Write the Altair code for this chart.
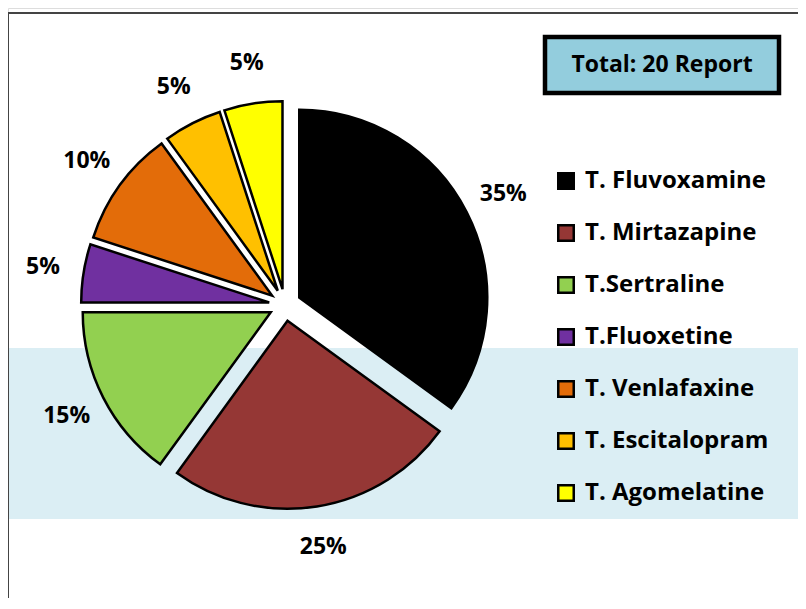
import altair as alt
import pandas as pd

drugs = ["T. Fluvoxamine", "T. Mirtazapine", "T.Sertraline", "T.Fluoxetine",
         "T. Venlafaxine", "T. Escitalopram", "T. Agomelatine"]
counts = [7, 5, 3, 1, 2, 1, 1]
colors = ["#000000", "#953735", "#92D050", "#7030A0", "#E36C09", "#FFC000", "#FFFF00"]
total_label = "Total: 20 Report"

W, H = 790, 590
CX, CY = 277, 297
R = 188
EXPLODE = 16
LABEL_R = 245
FONT = "Open Sans"

df = pd.DataFrame({"drug": drugs, "count": counts, "idx": list(range(len(drugs)))})

base = alt.Chart(df).transform_joinaggregate(
    total="sum(count)"
).transform_window(
    cum="sum(count)", sort=[alt.SortField("idx")], frame=[None, 0]
).transform_calculate(
    start="(datum.cum - datum.count) / datum.total * 2 * PI",
    end="datum.cum / datum.total * 2 * PI",
).transform_calculate(
    mid="(datum.start + datum.end) / 2"
).transform_calculate(
    cx=f"{CX} + {EXPLODE} * sin(datum.mid)",
    cy=f"{CY} - {EXPLODE} * cos(datum.mid)",
    lx=f"{CX} + {LABEL_R} * sin(datum.mid)",
    ly=f"{CY} - {LABEL_R} * cos(datum.mid)",
    pct="format(datum.count / datum.total, '.0%')",
)

arcs = base.mark_arc(radius=R, stroke="black", strokeWidth=2.5, strokeJoin="miter").encode(
    theta=alt.Theta("start:Q", scale=None),
    theta2="end:Q",
    x=alt.X("cx:Q", scale=None),
    y=alt.Y("cy:Q", scale=None),
    color=alt.Color("drug:N", scale=alt.Scale(domain=drugs, range=colors),
                    sort=drugs,
                    legend=alt.Legend(title=None, orient="none", legendX=546, legendY=161,
                                      symbolType="square", symbolSize=240,
                                      symbolStrokeColor="black", symbolStrokeWidth=2.5,
                                      labelFont=FONT, labelFontWeight="bold",
                                      labelFontSize=24, labelColor="black", labelLimit=0,
                                      labelOffset=7, rowPadding=26, padding=0,
                                      symbolOpacity=1)),
    order=alt.Order("idx:Q"),
)

labels = base.mark_text(font=FONT, fontWeight="bold", fontSize=23, color="black",
                        align="center", baseline="middle").encode(
    x=alt.X("lx:Q", scale=None),
    y=alt.Y("ly:Q", scale=None),
    text="pct:N",
)

band = alt.Chart(pd.DataFrame({"a": [0]})).mark_rect(color="#DBEEF4").encode(
    x=alt.value(0), x2=alt.value(W), y=alt.value(340), y2=alt.value(511))

frame_top = alt.Chart(pd.DataFrame({"a": [0]})).mark_rule(color="#444444", strokeWidth=2).encode(
    x=alt.value(0), x2=alt.value(W), y=alt.value(5))
frame_left = alt.Chart(pd.DataFrame({"a": [0]})).mark_rule(color="#444444", strokeWidth=2).encode(
    x=alt.value(0), y=alt.value(5), y2=alt.value(H))

box = alt.Chart(pd.DataFrame({"a": [0]})).mark_rect(fill="#93CDDD", stroke="black", strokeWidth=4.5).encode(
    x=alt.value(537), x2=alt.value(771), y=alt.value(29), y2=alt.value(85))
box_text = alt.Chart(pd.DataFrame({"t": [total_label]})).mark_text(
    font=FONT, fontWeight="bold", fontSize=23, color="black", align="center", baseline="middle").encode(
    x=alt.value(654), y=alt.value(57), text="t:N")

chart = alt.layer(band, frame_top, frame_left, arcs, labels, box, box_text).properties(
    width=W, height=H, autosize="none", padding=0
).configure_view(stroke=None).configure(background="white")

chart.save("out.html", embed_options={"renderer": "svg", "actions": False})
